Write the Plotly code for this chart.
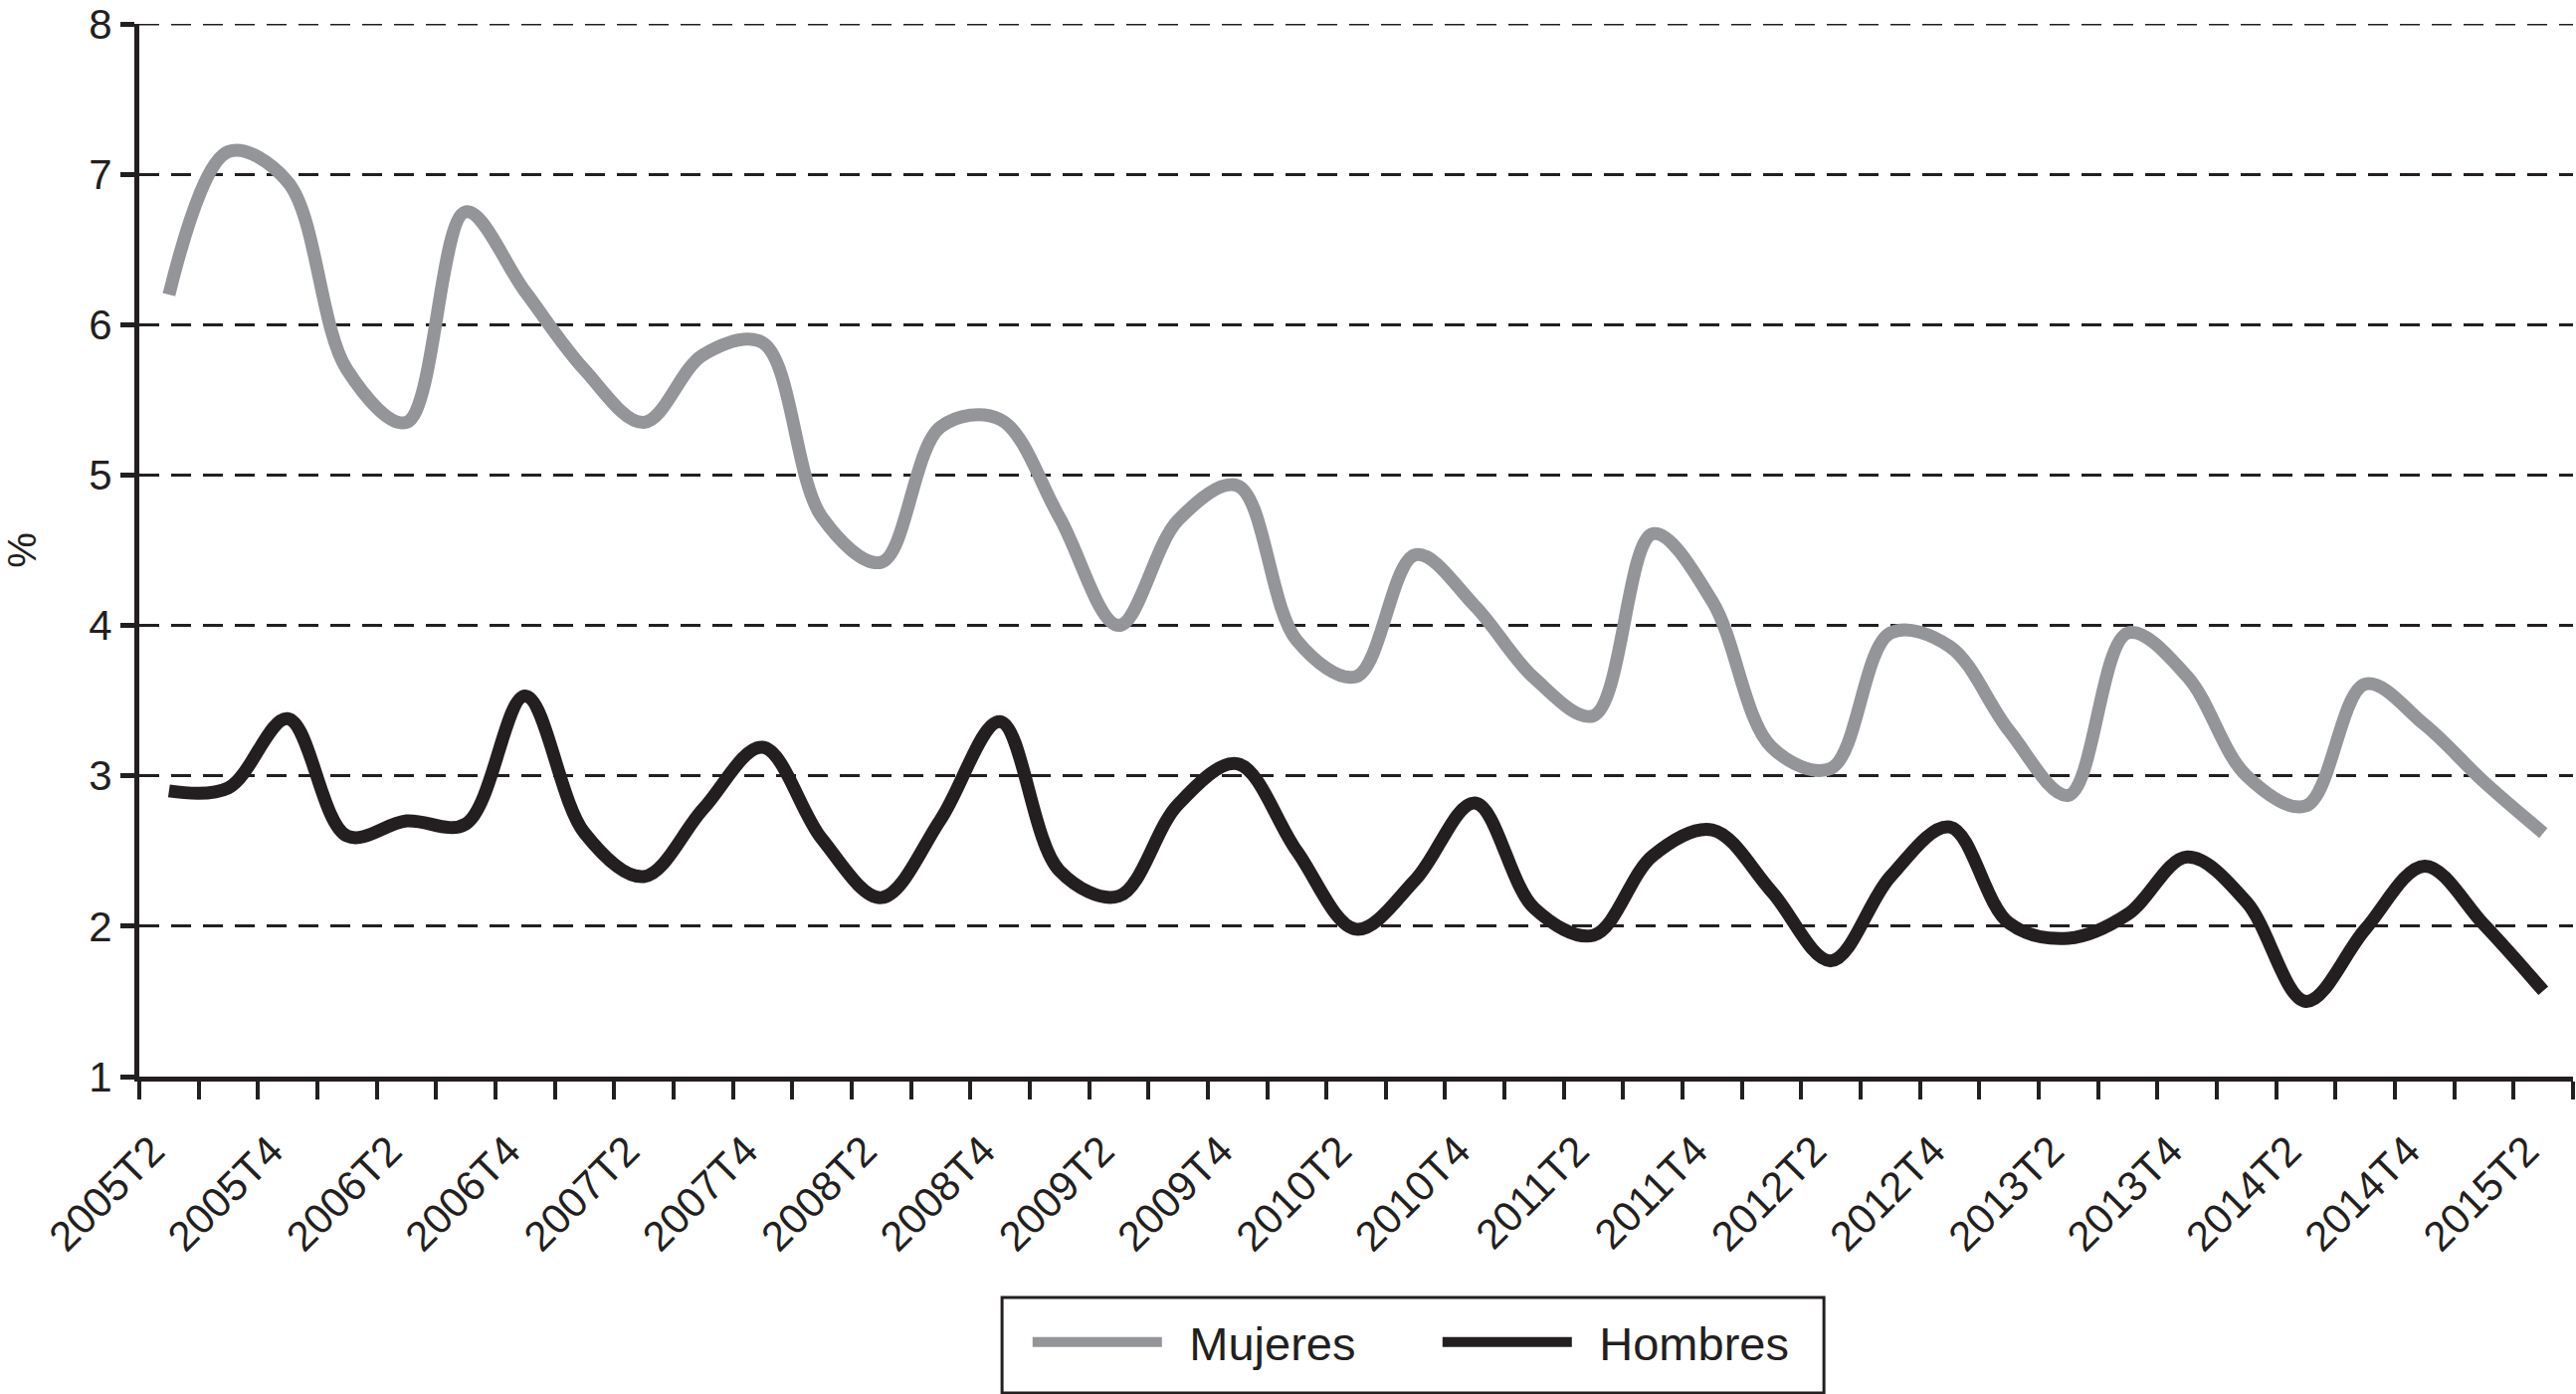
import plotly.graph_objects as go

quarters = [
    "2005T2", "2005T3", "2005T4",
    "2006T1", "2006T2", "2006T3", "2006T4",
    "2007T1", "2007T2", "2007T3", "2007T4",
    "2008T1", "2008T2", "2008T3", "2008T4",
    "2009T1", "2009T2", "2009T3", "2009T4",
    "2010T1", "2010T2", "2010T3", "2010T4",
    "2011T1", "2011T2", "2011T3", "2011T4",
    "2012T1", "2012T2", "2012T3", "2012T4",
    "2013T1", "2013T2", "2013T3", "2013T4",
    "2014T1", "2014T2", "2014T3", "2014T4",
    "2015T1", "2015T2",
]

mujeres = [6.2, 7.15, 6.95, 5.7, 5.35, 6.75, 6.22, 5.7, 5.35, 5.8, 5.88,
           4.72, 4.42, 5.32, 5.37, 4.72, 4.0, 4.7, 4.93, 3.9, 3.66,
           4.47, 4.13, 3.65, 3.4, 4.61, 4.16, 3.19, 3.05, 3.95, 3.86,
           3.3, 2.87, 3.95, 3.66, 3.0, 2.8, 3.61, 3.34, 2.96, 2.62]

hombres = [2.9, 2.92, 3.38, 2.6, 2.7, 2.68, 3.53, 2.62, 2.33, 2.78, 3.19,
           2.58, 2.19, 2.71, 3.36, 2.37, 2.2, 2.81, 3.08, 2.5, 1.98,
           2.31, 2.82, 2.12, 1.94, 2.47, 2.64, 2.23, 1.77, 2.33, 2.66,
           2.02, 1.92, 2.08, 2.46, 2.16, 1.5, 1.98, 2.4, 2.01, 1.57]

y_ticks = [1, 2, 3, 4, 5, 6, 7, 8]
tick_labels = [q if i % 2 == 0 else "" for i, q in enumerate(quarters)]

GRAY = "#939598"
BLACK = "#231f20"
FONT = "Liberation Sans, Arial, sans-serif"
SP = "\u00a0\u2009"
DASH = "20px,12px"

fig = go.Figure()
fig.add_trace(go.Scatter(x=quarters, y=mujeres, name=SP + "Mujeres", mode="lines",
                         line=dict(color=GRAY, width=13, shape="spline", smoothing=1.0)))
fig.add_trace(go.Scatter(x=quarters, y=hombres, name=SP + "Hombres", mode="lines",
                         line=dict(color=BLACK, width=13, shape="spline", smoothing=1.0)))

# top gridline (plotly drops the one on the plot edge)
fig.add_shape(type="line", xref="paper", x0=0, x1=1, yref="y", y0=y_ticks[-1], y1=y_ticks[-1],
              line=dict(color=BLACK, width=3, dash=DASH), layer="below")
# legend frame
fig.add_shape(type="rect", xref="paper", yref="paper", x0=0.3545, x1=0.6922,
              y0=-0.3006, y1=-0.2098, line=dict(color=BLACK, width=3),
              fillcolor="rgba(0,0,0,0)")

fig.update_layout(
    width=2589, height=1401,
    margin=dict(l=140, r=3, t=24, b=319, autoexpand=False),
    paper_bgcolor="white", plot_bgcolor="white",
    font=dict(family=FONT, color=BLACK, size=40),
    showlegend=True,
    legend=dict(orientation="h", x=0.365, xanchor="left", y=-0.217, yanchor="top",
                borderwidth=0, bgcolor="rgba(0,0,0,0)",
                font=dict(family=FONT, size=47, color=BLACK),
                itemwidth=130, entrywidth=267, entrywidthmode="pixels",
                tracegroupgap=0),
    xaxis=dict(type="category", range=[-0.5, len(quarters) - 0.5],
               tickmode="array", tickvals=quarters, ticktext=tick_labels,
               tickson="boundaries", ticks="outside", ticklen=18, tickwidth=4,
               tickcolor=BLACK, tickangle=-45, showline=True, linewidth=5,
               linecolor=BLACK, showgrid=False, zeroline=False,
               ticklabelstandoff=28, ticklabelshift=-17,
               tickfont=dict(family=FONT, size=42, color=BLACK)),
    yaxis=dict(range=[y_ticks[0], y_ticks[-1]], tickmode="array", tickvals=y_ticks,
               ticks="outside", ticklen=14,
               tickwidth=5, tickcolor=BLACK, showline=True, linewidth=5,
               linecolor=BLACK, showgrid=True, gridcolor=BLACK, gridwidth=3,
               griddash=DASH, zeroline=False,
               tickfont=dict(family=FONT, size=42, color=BLACK),
               title=dict(text="%", font=dict(family=FONT, size=40, color=BLACK),
                          standoff=48)),
)

fig.write_html("out.html", config={"displayModeBar": False},
               post_script="document.body.style.margin='0';")
